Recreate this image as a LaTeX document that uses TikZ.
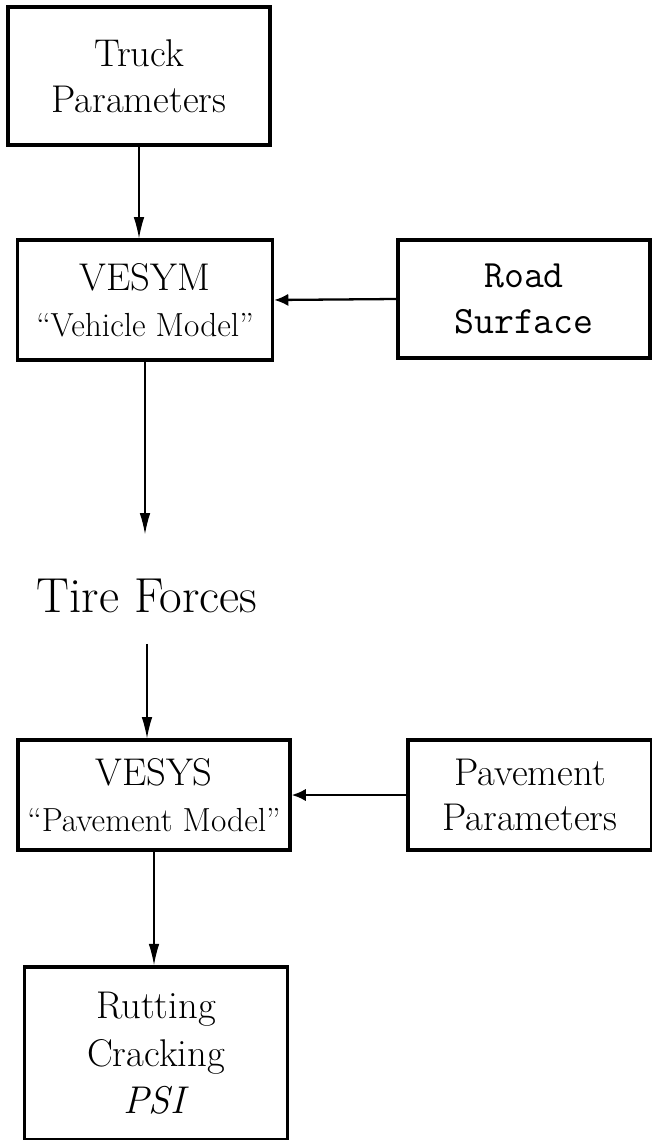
\documentclass[tikz,border=0pt]{standalone}
\usepackage{tikz}
\usetikzlibrary{arrows,arrows.meta}

\tikzset{
    blk/.style={draw, line width=2pt, align=center, font=\fontsize{22}{26}\selectfont},
    flow/.style={-{Latex[length=12pt,width=6pt]}, line width=0.6pt},
    feed/.style={-{Latex[length=8pt,width=7pt]}, line width=1.3pt},
}
\newcommand{\sublabel}[1]{{\fontsize{19}{26}\selectfont #1}}

\begin{document}
\begin{tikzpicture}[x=0.02cm, y=-0.02cm]
    \useasboundingbox (0,0) rectangle (652,1140);
    \node[blk, minimum width=5.24cm, minimum height=2.76cm] (truck) at (139,76) {Truck\\Parameters};
    \node[blk, minimum width=5.1cm, minimum height=2.4cm] (vesym) at (145,300) {VESYM\\\sublabel{``Vehicle Model''}};
    \node[blk, minimum width=5.04cm, minimum height=2.36cm] (road) at (524,299) {\ttfamily Road\\\ttfamily Surface};
    \node[font=\fontsize{28}{32}\selectfont] (tire) at (147,596) {Tire Forces};
    \node[blk, minimum width=5.44cm, minimum height=2.2cm] (vesys) at (154,795) {VESYS\\\sublabel{``Pavement Model''}};
    \node[blk, minimum width=4.88cm, minimum height=2.2cm] (pave) at (530,795) {Pavement\\Parameters};
    \node[blk, font=\fontsize{22}{27}\selectfont, minimum width=5.26cm, minimum height=3.46cm, anchor=north] (rut) at (156,965) {Rutting\\Cracking\\\textit{PSI}};
    % connectors
    \draw[flow] (truck.south) -- (truck.south |- vesym.north);
    \draw[feed] (road.west) -- (vesym.east);
    \draw[flow, shorten >=22pt] (vesym.south) -- (vesym.south |- tire.north);
    \draw[flow, shorten <=14pt] (tire.south) -- (tire.south |- vesys.north);
    \draw[feed] (pave.west) -- (vesys.east);
    \draw[flow] (vesys.south) -- (vesys.south |- rut.north);
\end{tikzpicture}
\end{document}
